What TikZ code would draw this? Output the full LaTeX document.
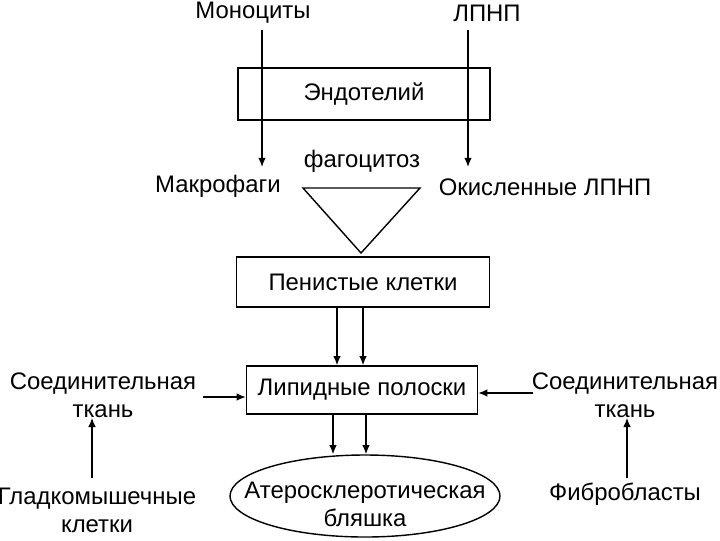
\documentclass[tikz,border=0pt]{standalone}
\usepackage{fontspec}
\setmainfont{Liberation Sans}
\usetikzlibrary{arrows.meta, positioning, shapes.geometric}

\begin{document}
\begin{tikzpicture}[
		x=0.025cm, y=-0.025cm,
		every node/.style={font=\fontsize{17}{20}\selectfont, inner sep=0pt},
		block/.style={rectangle, draw, line width=1pt, align=center},
		label/.style={align=center},
		arrow/.style={-{Latex[length=2.3mm, width=1.9mm]}, line width=1pt}
		]
		\useasboundingbox (0,0) rectangle (720,540);

		% top
		\node[label] (mono) at (253,13) {Моноциты};
		\node[label] (ldl) at (487,13) {ЛПНП};
		\node[block, minimum width=252*0.025cm, minimum height=52*0.025cm] (endo) at (364,94) {Эндотелий};
		\node[label] (mac) at (218,186) {Макрофаги};
		\node[label] (phago) at (362,161) {фагоцитоз};
		\node[label] (oxldl) at (545,187) {Окисленные ЛПНП};

		\coordinate (m1) at (262,30);
		\coordinate (m2) at (262,167);
		\coordinate (l1) at (468,30);
		\coordinate (l2) at (468,167);
		\draw[arrow] (m1) -- (m2);
		\draw[arrow] (l1) -- (l2);

		% triangle
		\coordinate (t1) at (303,188);
		\coordinate (t2) at (420,188);
		\coordinate (t3) at (361,253);
		\draw[line width=1pt] (t1) -- (t2) -- (t3) -- cycle;

		% middle
		\node[block, minimum width=253*0.025cm, minimum height=50*0.025cm] (foam) at (363,282) {Пенистые клетки};
		\node[block, minimum width=231*0.025cm, minimum height=48*0.025cm] (lipid) at (362,390) {Липидные полоски};
		\node[ellipse, draw, line width=1pt, minimum width=270*0.025cm, minimum height=82*0.025cm] (plaque) at (365,496) {};
		\node[label] (plaquetext) at (365,504) {Атеросклеротическая\\бляшка};

		\draw[arrow] ([xshift=-26*0.025cm]foam.south) -- ([xshift=-26*0.025cm]foam.south |- lipid.north);
		\draw[arrow] (foam.south) -- (foam.south |- lipid.north);
		\draw[arrow] ([xshift=-29*0.025cm]lipid.south) -- ([xshift=-29*0.025cm]lipid.south |- plaque.north);
		\draw[arrow] ([xshift=4*0.025cm]lipid.south) -- ([xshift=4*0.025cm]lipid.south |- plaque.north);

		% sides
		\node[label] (ctl) at (103,395) {Соединительная\\ткань};
		\node[label] (ctr) at (625,395) {Соединительная\\ткань};
		\node[label] (smc) at (97,510) {Гладкомышечные\\клетки};
		\node[label] (fib) at (625,494) {Фибробласты};

		\coordinate (cl) at (203,397);
		\coordinate (cr) at (533,393);
		\coordinate (s1) at (92,478);
		\coordinate (f1) at (627,478);
		\draw[arrow] (cl) -- (cl -| lipid.west);
		\draw[arrow] (cr) -- (cr -| lipid.east);
		\draw[arrow] (s1) -- (s1 |- ctl.south);
		\draw[arrow] (f1) -- (f1 |- ctr.south);
	\end{tikzpicture}
\end{document}
